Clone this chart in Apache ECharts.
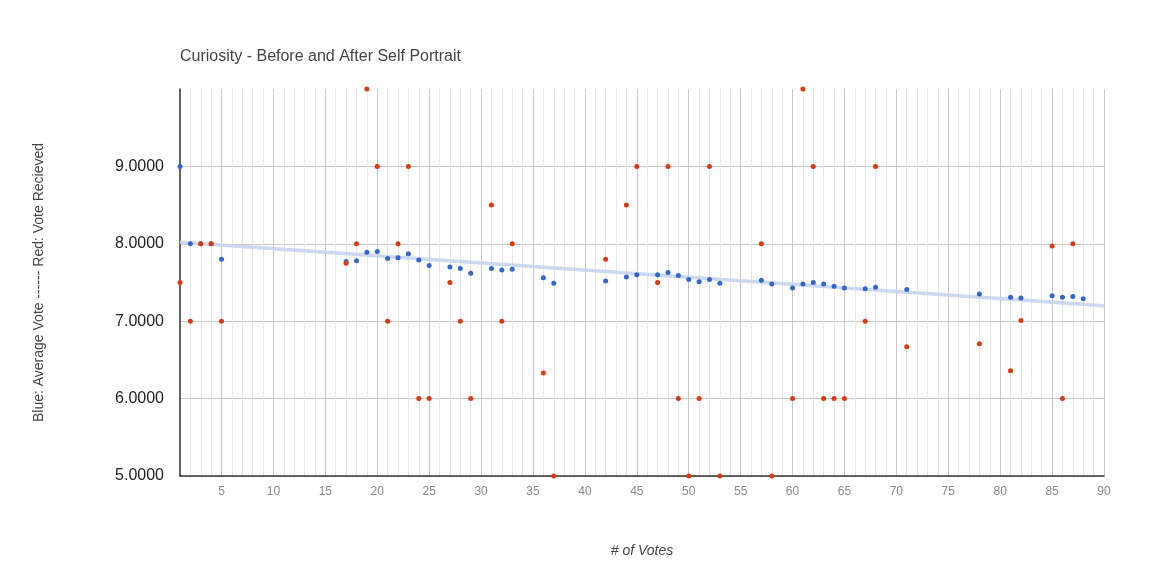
<!DOCTYPE html>
<html>
<head>
<meta charset="utf-8">
<script src="https://cdn.jsdelivr.net/npm/echarts@6/dist/echarts.min.js"></script>
<style>html,body{margin:0;padding:0;background:#fff}#c{width:1158px;height:582px}</style>
</head>
<body>
<div id="c"></div>
<script>
// Blue: average vote [# of votes, value]
const blueX = [1, 2, 3, 4, 5, 17, 18, 19, 20, 21, 22, 23, 24, 25, 27, 28, 29, 31, 32, 33, 36, 37, 42, 44, 45, 47, 48, 49, 50, 51, 52, 53, 57, 58, 60, 61, 62, 63, 64, 65, 67, 68, 71, 78, 81, 82, 85, 86, 87, 88];
const blueY = [9.0, 8.0, 8.0, 8.0, 7.80, 7.77, 7.78, 7.89, 7.90, 7.81, 7.82, 7.87, 7.79, 7.72, 7.70, 7.68, 7.62, 7.68, 7.66, 7.67, 7.56, 7.49, 7.52, 7.57, 7.60, 7.60, 7.63, 7.59, 7.54, 7.51, 7.54, 7.49, 7.53, 7.48, 7.43, 7.48, 7.50, 7.48, 7.45, 7.43, 7.42, 7.44, 7.41, 7.35, 7.31, 7.30, 7.33, 7.31, 7.32, 7.29];
// Red: vote received
const redX = [1, 2, 3, 4, 5, 17, 18, 19, 20, 21, 22, 23, 24, 25, 27, 28, 29, 31, 32, 33, 36, 37, 42, 44, 45, 47, 48, 49, 50, 51, 52, 53, 57, 58, 60, 61, 62, 63, 64, 65, 67, 68, 71, 78, 81, 82, 85, 86, 87];
const redY = [7.5, 7.0, 8.0, 8.0, 7.0, 7.75, 8.0, 10.0, 9.0, 7.0, 8.0, 9.0, 6.0, 6.0, 7.5, 7.0, 6.0, 8.5, 7.0, 8.0, 6.33, 5.0, 7.8, 8.5, 9.0, 7.5, 9.0, 6.0, 5.0, 6.0, 9.0, 5.0, 8.0, 5.0, 6.0, 10.0, 9.0, 6.0, 6.0, 6.0, 7.0, 9.0, 6.67, 6.71, 6.36, 7.01, 7.97, 6.0, 8.0];
// Trendline endpoints
const trendX = [1, 90];
const trendY = [8.02, 7.20];

const title = 'Curiosity - Before and After Self Portrait';
const xName = '# of Votes';
const yName = 'Blue: Average Vote ------ Red: Vote Recieved';

const zip = (xs, ys) => xs.map((x, i) => [x, ys[i]]);
const FONT = '"Liberation Sans", Arial, sans-serif';

const chart = echarts.init(document.getElementById('c'));
chart.setOption({
  animation: false,
  backgroundColor: '#fff',
  title: {
    text: title, left: 175, top: 44,
    textStyle: { fontFamily: FONT, fontSize: 16, fontWeight: 'normal', color: '#444' }
  },
  grid: { left: 180, right: 54, top: 89, bottom: 106, containLabel: false },
  xAxis: {
    type: 'value', min: 1, max: 90, interval: 1,
    name: xName, nameLocation: 'middle', nameGap: 68,
    nameTextStyle: { fontFamily: FONT, fontSize: 14, fontStyle: 'italic', color: '#444' },
    axisLine: { show: true, onZero: false, lineStyle: { color: '#333', width: 1.5 } },
    axisTick: { show: false },
    axisLabel: {
      interval: 0, margin: 10, showMinLabel: true, showMaxLabel: true,
      fontFamily: FONT, fontSize: 12, color: '#888',
      formatter: v => (v % 5 === 0 ? String(v) : '')
    },
    splitLine: { show: true, lineStyle: { color: ['#e6e6e6', '#e6e6e6', '#e6e6e6', '#e6e6e6', '#c8c8c8'], width: 1 } }
  },
  yAxis: {
    type: 'value', min: 5, max: 10, interval: 1,
    name: yName, nameLocation: 'middle', nameGap: 134, nameRotate: 90,
    nameTextStyle: { fontFamily: FONT, fontSize: 14, color: '#444' },
    axisLine: { show: true, onZero: false, lineStyle: { color: '#333', width: 1.5 } },
    axisTick: { show: false },
    axisLabel: {
      margin: 16, showMaxLabel: false,
      fontFamily: FONT, fontSize: 16, color: '#222',
      formatter: v => v.toFixed(4)
    },
    splitLine: { show: true, showMaxLine: false, lineStyle: { color: '#c8c8c8', width: 1 } }
  },
  series: [
    {
      type: 'line', data: zip(trendX, trendY), symbol: 'none', silent: true,
      lineStyle: { color: '#c6d4ef', width: 3.5, opacity: 0.9 }, z: 1
    },
    {
      type: 'scatter', data: zip(blueX, blueY), symbolSize: 5,
      itemStyle: { color: '#3366cc', opacity: 1 }, z: 2
    },
    {
      type: 'scatter', data: zip(redX, redY), symbolSize: 5,
      itemStyle: { color: '#dc3912', opacity: 1 }, z: 3
    }
  ]
});
</script>
</body>
</html>
